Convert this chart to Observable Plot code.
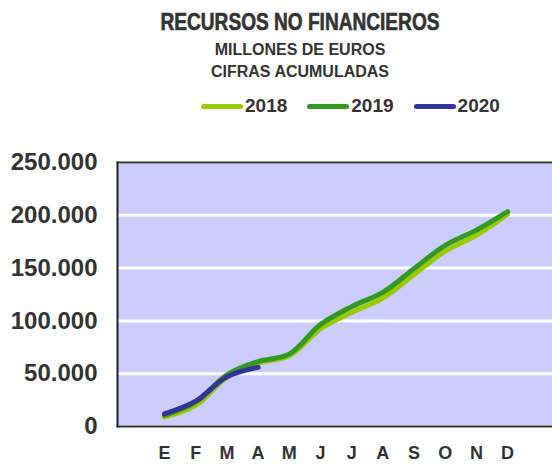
<!DOCTYPE html>
<html>
<head>
<meta charset="utf-8">
<script src="https://cdn.jsdelivr.net/npm/d3@7"></script>
<script src="https://cdn.jsdelivr.net/npm/@observablehq/plot@0.6"></script>
<style>
  html, body { margin: 0; padding: 0; background: #fff; width: 552px; height: 464px; overflow: hidden; }
  #header { width: 552px; height: 130px; position: relative; font-family: "Liberation Sans", Arial, sans-serif; color: #333; font-weight: bold; }
  .center { position: absolute; left: 0; width: 600px; text-align: center; white-space: nowrap; }
  #title { top: 9px; font-size: 23px; transform: scaleX(0.83); transform-origin: 300px 50%; -webkit-text-stroke: 0.6px #333; }
  #sub1 { top: 41px; font-size: 16px; }
  #sub2 { top: 63px; font-size: 16px; }
  #legend { position: absolute; top: 95px; left: 201px; display: flex; align-items: center; font-size: 19px; }
  .item { display: flex; align-items: center; margin-right: 20px; }
  .sw { width: 42px; height: 5px; border-radius: 3px; margin-right: 2px; }
  #chart svg { display: block; }
</style>
</head>
<body>
<div id="header">
  <div id="title" class="center">RECURSOS NO FINANCIEROS</div>
  <div id="sub1" class="center">MILLONES DE EUROS</div>
  <div id="sub2" class="center">CIFRAS ACUMULADAS</div>
  <div id="legend"></div>
</div>
<div id="chart"></div>
<script>
const months = ["E","F","M","A","M","J","J","A","S","O","N","D"];
const seriesNames = ["2018","2019","2020"];
const seriesColors = ["#99cc00","#339922","#333399"];
const v2018 = [9000, 20000, 46500, 60000, 67000, 92500, 108000, 121500, 144000, 166000, 181000, 201000];
const v2019 = [10500, 23000, 49000, 61500, 68500, 96500, 113500, 127000, 149500, 171500, 186000, 203500];
const v2020 = [12000, 24000, 47000, 56000];
const yTicks = [0, 50000, 100000, 150000, 200000, 250000];

const seriesValues = [v2018, v2019, v2020];
const data = [];
seriesValues.forEach((vals, s) => vals.forEach((v, i) => data.push({serie: seriesNames[s], i, value: v})));

// legend
const legend = document.getElementById("legend");
seriesNames.forEach((n, k) => {
  const it = document.createElement("div");
  it.className = "item";
  it.innerHTML = `<div class="sw" style="background:${seriesColors[k]}"></div><span>${n}</span>`;
  legend.appendChild(it);
});

const fmt = v => d3.format(",")(v).replace(/,/g, ".");

const chart = Plot.plot({
  width: 552,
  height: 334,
  marginLeft: 117,
  marginRight: 0,
  marginTop: 32,
  marginBottom: 38,
  style: { fontFamily: "Liberation Sans, Arial, sans-serif", fontWeight: "bold", color: "#333", background: "transparent" },
  x: { type: "linear", domain: [-1.507, 12.44], ticks: d3.range(months.length), tickFormat: i => months[i], tickSize: 0, tickPadding: 20, label: null },
  y: { domain: [0, 250000], ticks: yTicks, tickFormat: fmt, tickSize: 0, tickPadding: 20, label: null },
  color: { domain: seriesNames, range: seriesColors },
  marks: [
    Plot.frame({ fill: "#ccccff", stroke: null }),
    Plot.ruleY(yTicks, { stroke: "#fff", strokeWidth: 3 }),
    Plot.frame({ anchor: "left", stroke: "#222", strokeWidth: 2 }),
    Plot.frame({ anchor: "top", stroke: "#333", strokeWidth: 2 }),
    Plot.frame({ anchor: "bottom", stroke: "#333", strokeWidth: 2 }),
    Plot.line(data, { x: "i", y: "value", z: "serie", stroke: "serie", strokeWidth: 5, curve: "catmull-rom", strokeLinecap: "round", strokeLinejoin: "round" }),
    Plot.axisX({ ticks: d3.range(months.length), tickFormat: i => months[i], tickSize: 0, tickPadding: 20, fontSize: 18, fontWeight: "900", stroke: "#333", strokeWidth: 0.4, label: null }),
    Plot.axisY({ ticks: yTicks, tickFormat: fmt, tickSize: 0, tickPadding: 20, fontSize: 24, stroke: "#333", strokeWidth: 0.3, label: null })
  ]
});
document.getElementById("chart").appendChild(chart);
</script>
</body>
</html>
